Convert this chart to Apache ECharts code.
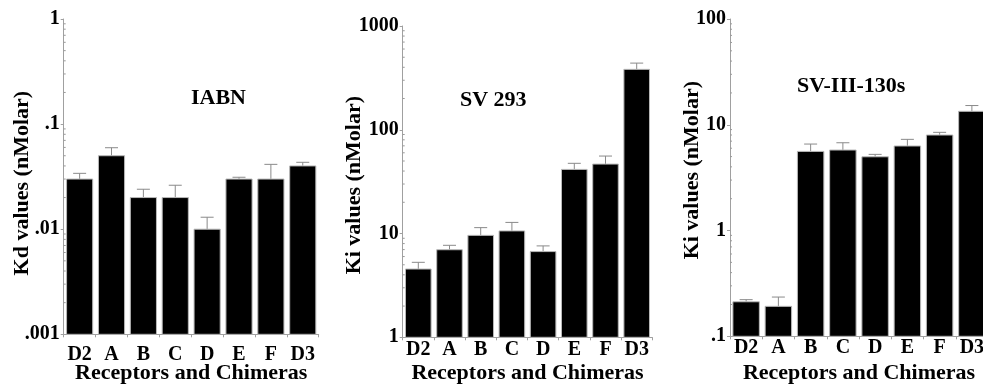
<!DOCTYPE html>
<html>
<head>
<meta charset="utf-8">
<script src="https://cdn.jsdelivr.net/npm/echarts@6/dist/echarts.min.js"></script>
<style>
html,body{margin:0;padding:0;background:#fff;}
#chart{width:983px;height:385px;}
</style>
</head>
<body>
<div id="chart"></div>
<script>
// ---- data ----
const categories = ['D2', 'A', 'B', 'C', 'D', 'E', 'F', 'D3'];

const iabnValues  = [0.030, 0.050, 0.020, 0.020, 0.010, 0.030, 0.030, 0.040];
const iabnErrTop  = [0.034, 0.0596, 0.024, 0.0262, 0.013, 0.0312, 0.0414, 0.0433];

const sv293Values = [4.55, 6.98, 9.6, 10.6, 6.7, 41.5, 46.7, 382];
const sv293ErrTop = [5.28, 7.7, 11.4, 12.8, 7.6, 47.5, 55.8, 439];

const sv130Values = [0.212, 0.192, 5.6, 5.77, 4.98, 6.3, 8.0, 13.4];
const sv130ErrTop = [0.222, 0.235, 6.57, 6.76, 5.25, 7.28, 8.48, 15.2];

const panelTitles = ['IABN', 'SV 293', 'SV-III-130s'];
const yAxisNames = ['Kd values (nMolar)', 'Ki values (nMolar)', 'Ki values (nMolar)'];
const xAxisName = 'Receptors and Chimeras';

// y ranges (log)
const yMins = [0.001, 1, 0.1];
const yMaxs = [1, 1000, 100];
// tick labels by decade exponent
const tickLabels = { '-3': '.001', '-2': '.01', '-1': '.1', '0': '1', '1': '10', '2': '100', '3': '1000' };
const minorMultipliers = [2, 3, 4, 5, 6, 7, 8, 9];

// ---- build ----
const FONT = '"Liberation Serif", "Times New Roman", serif';
const chart = echarts.init(document.getElementById('chart'));

const grids = [
  { left: 63.7, top: 19, width: 255, height: 315.3, outerBoundsMode: 'none', containLabel: false },
  { left: 402.7, top: 26, width: 249.6, height: 311.3, outerBoundsMode: 'none', containLabel: false },
  { left: 730, top: 19, width: 258, height: 317.3, outerBoundsMode: 'none', containLabel: false }
];
const xLabelMargins = [11, 3, 1.5];
const xNameGaps = [28, 25, 26];
const yNameGaps = [30, 37, 27];
const yNamePads = [[0, 13, 0, 0], [0, 7, 0, 0], [0, 0, 0, 15]];
const titlePos = [[191, 87], [460, 89], [797, 75]];

function decadeLabel(v) {
  const e = Math.round(Math.log10(v));
  return tickLabels[String(e)] !== undefined ? tickLabels[String(e)] : String(v);
}

function barRender(minVal) {
  return function (params, api) {
    const i = api.value(0), v = api.value(1), e = api.value(2);
    const top = api.coord([i, v]);
    const base = api.coord([i, minVal]);
    const et = api.coord([i, e]);
    const bw = api.size([1, 1])[0] * 0.82;
    const cap = 6.5;
    return {
      type: 'group',
      children: [
        { type: 'line', shape: { x1: top[0], y1: top[1], x2: top[0], y2: et[1] }, style: { stroke: '#8a8a8a', lineWidth: 1 } },
        { type: 'line', shape: { x1: top[0] - cap, y1: et[1], x2: top[0] + cap, y2: et[1] }, style: { stroke: '#8a8a8a', lineWidth: 1 } },
        { type: 'rect', shape: { x: top[0] - bw / 2, y: top[1], width: bw, height: base[1] - top[1] }, style: { fill: '#000', stroke: '#b8b8b8', lineWidth: 1 } }
      ]
    };
  };
}

function minorRender(params, api) {
  const v = api.value(1);
  const p = api.coord([0, v]);
  const x = params.coordSys.x;
  return { type: 'line', shape: { x1: x, y1: p[1], x2: x + 2, y2: p[1] }, style: { stroke: '#9a9a9a', lineWidth: 1 } };
}

function minorData(minVal, maxVal) {
  const out = [];
  const e0 = Math.round(Math.log10(minVal)), e1 = Math.round(Math.log10(maxVal));
  for (let e = e0; e < e1; e++) {
    minorMultipliers.forEach(m => out.push([0, m * Math.pow(10, e)]));
  }
  return out;
}

const valuesSets = [iabnValues, sv293Values, sv130Values];
const errSets = [iabnErrTop, sv293ErrTop, sv130ErrTop];

const option = {
  animation: false,
  backgroundColor: '#fff',
  title: panelTitles.map((t, k) => ({
    text: t, left: titlePos[k][0], top: titlePos[k][1], padding: 0,
    textStyle: { fontFamily: FONT, fontWeight: 'bold', fontSize: 22, color: '#000' }
  })),
  grid: grids,
  xAxis: grids.map((g, k) => ({
    type: 'category', gridIndex: k, data: categories,
    name: xAxisName, nameLocation: 'middle', nameGap: xNameGaps[k], nameMoveOverlap: false,
    nameTextStyle: { fontFamily: FONT, fontWeight: 'bold', fontSize: 22, color: '#000' },
    axisLine: { lineStyle: { color: '#a0a0a0', width: 1 } },
    axisTick: { show: true, length: 3, lineStyle: { color: '#a0a0a0' } },
    axisLabel: { margin: xLabelMargins[k], fontFamily: FONT, fontWeight: 'bold', fontSize: 20, color: '#000', interval: 0 },
    splitLine: { show: false }
  })),
  yAxis: grids.map((g, k) => ({
    type: 'log', gridIndex: k, logBase: 10, min: yMins[k], max: yMaxs[k],
    name: yAxisNames[k], nameLocation: 'middle', nameGap: yNameGaps[k], nameRotate: 90, nameMoveOverlap: false,
    nameTextStyle: { fontFamily: FONT, fontWeight: 'bold', fontSize: 22, color: '#000', padding: yNamePads[k] },
    axisLine: { show: true, lineStyle: { color: '#a0a0a0', width: 1 } },
    axisTick: { show: true, length: 3, lineStyle: { color: '#a0a0a0' } },
    axisLabel: { margin: 4, fontFamily: FONT, fontWeight: 'bold', fontSize: 20, color: '#000', formatter: decadeLabel },
    splitLine: { show: false }
  })),
  series: []
};

grids.forEach((g, k) => {
  option.series.push({
    type: 'custom', xAxisIndex: k, yAxisIndex: k,
    renderItem: barRender(yMins[k]),
    encode: { x: 0, y: 1 },
    data: categories.map((c, i) => [i, valuesSets[k][i], errSets[k][i]]),
    clip: false, z: 2
  });
  option.series.push({
    type: 'custom', xAxisIndex: k, yAxisIndex: k,
    renderItem: minorRender,
    encode: { x: 0, y: 1 },
    data: minorData(yMins[k], yMaxs[k]),
    clip: false, silent: true, z: 1
  });
});

chart.setOption(option);
</script>
</body>
</html>
